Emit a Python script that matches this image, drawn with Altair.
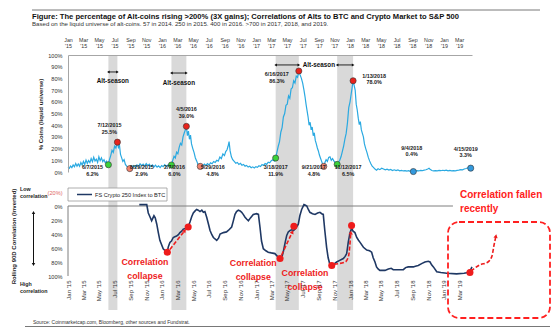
import math
import datetime as dt
import altair as alt
import pandas as pd

FONT = "Liberation Sans"
W = 404            # plot width (Jan 2015 .. 20 Apr 2019)
TOP_H = 117        # height of the upper panel
BOT_RANGE = [137, 221]
RED = "#ee1c1c"
NAVY = "#1f3864"
LIGHT_BLUE = "#2aa9e1"
BAND = "#d9d9d9"

# ---------------- upper panel: % of alt-coins rising >200% ----------------
alt_dates = [
    "2015-01-01", "2015-01-06", "2015-01-11", "2015-01-16", "2015-01-21", "2015-01-26", "2015-01-31",
    "2015-02-05", "2015-02-10", "2015-02-15", "2015-02-20", "2015-02-25",
    "2015-03-02", "2015-03-07", "2015-03-12", "2015-03-17", "2015-03-22", "2015-03-27",
    "2015-04-01", "2015-04-06", "2015-04-11", "2015-04-16", "2015-04-21", "2015-04-26",
    "2015-05-01", "2015-05-06", "2015-05-11", "2015-05-16", "2015-05-21", "2015-05-26", "2015-05-31",
    "2015-06-04", "2015-06-07", "2015-06-11", "2015-06-16", "2015-06-21", "2015-06-26",
    "2015-07-01", "2015-07-06", "2015-07-12", "2015-07-16", "2015-07-20", "2015-07-24", "2015-07-28",
    "2015-08-02", "2015-08-07", "2015-08-12", "2015-08-17", "2015-08-22", "2015-08-29",
    "2015-09-03", "2015-09-08", "2015-09-14", "2015-09-20", "2015-09-26",
    "2015-10-02", "2015-10-08", "2015-10-14", "2015-10-20", "2015-10-26",
    "2015-11-01", "2015-11-07", "2015-11-13", "2015-11-19", "2015-11-25",
    "2015-12-01", "2015-12-07", "2015-12-13", "2015-12-19", "2015-12-25", "2015-12-31",
    "2016-01-06", "2016-01-12", "2016-01-18", "2016-01-24", "2016-01-30",
    "2016-02-04", "2016-02-07", "2016-02-12", "2016-02-17", "2016-02-22", "2016-02-27",
    "2016-03-03", "2016-03-08", "2016-03-13", "2016-03-18", "2016-03-23", "2016-03-28",
    "2016-04-01", "2016-04-05", "2016-04-09", "2016-04-13", "2016-04-17", "2016-04-21", "2016-04-25", "2016-04-30",
    "2016-05-05", "2016-05-10", "2016-05-15", "2016-05-20", "2016-05-25", "2016-05-29",
    "2016-06-03", "2016-06-08", "2016-06-14", "2016-06-20", "2016-06-26",
    "2016-07-02", "2016-07-08", "2016-07-14", "2016-07-20", "2016-07-26",
    "2016-08-01", "2016-08-07", "2016-08-13", "2016-08-19", "2016-08-25", "2016-08-31",
    "2016-09-05", "2016-09-10", "2016-09-14", "2016-09-18", "2016-09-22", "2016-09-27",
    "2016-10-02", "2016-10-08", "2016-10-14", "2016-10-20", "2016-10-26",
    "2016-11-01", "2016-11-07", "2016-11-13", "2016-11-19", "2016-11-25",
    "2016-12-01", "2016-12-07", "2016-12-13", "2016-12-19", "2016-12-25", "2016-12-31",
    "2017-01-06", "2017-01-12", "2017-01-18", "2017-01-24", "2017-01-30",
    "2017-02-05", "2017-02-11", "2017-02-17", "2017-02-23",
    "2017-03-01", "2017-03-07", "2017-03-13", "2017-03-18", "2017-03-23", "2017-03-28",
    "2017-04-02", "2017-04-07", "2017-04-12", "2017-04-17", "2017-04-22", "2017-04-27",
    "2017-05-02", "2017-05-07", "2017-05-12", "2017-05-17", "2017-05-22", "2017-05-27",
    "2017-06-01", "2017-06-06", "2017-06-11", "2017-06-16", "2017-06-21", "2017-06-26",
    "2017-07-01", "2017-07-06", "2017-07-10", "2017-07-14", "2017-07-18", "2017-07-22", "2017-07-26", "2017-07-30",
    "2017-08-03", "2017-08-07", "2017-08-11", "2017-08-15", "2017-08-19", "2017-08-23", "2017-08-27", "2017-08-31",
    "2017-09-04", "2017-09-08", "2017-09-12", "2017-09-16", "2017-09-21", "2017-09-25", "2017-09-30",
    "2017-10-05", "2017-10-10", "2017-10-15", "2017-10-20", "2017-10-25", "2017-10-30",
    "2017-11-04", "2017-11-08", "2017-11-12", "2017-11-17", "2017-11-22", "2017-11-27",
    "2017-12-02", "2017-12-07", "2017-12-12", "2017-12-17", "2017-12-22", "2017-12-27",
    "2018-01-01", "2018-01-05", "2018-01-09", "2018-01-13", "2018-01-17", "2018-01-21", "2018-01-25", "2018-01-29",
    "2018-02-02", "2018-02-06", "2018-02-10", "2018-02-14", "2018-02-18", "2018-02-22", "2018-02-26",
    "2018-03-03", "2018-03-08", "2018-03-13", "2018-03-18", "2018-03-23", "2018-03-28",
    "2018-04-02", "2018-04-08", "2018-04-14", "2018-04-20", "2018-04-27",
    "2018-05-04", "2018-05-11", "2018-05-18", "2018-05-25",
    "2018-06-01", "2018-06-08", "2018-06-15", "2018-06-22", "2018-06-29",
    "2018-07-06", "2018-07-13", "2018-07-20", "2018-07-27",
    "2018-08-03", "2018-08-10", "2018-08-17", "2018-08-24", "2018-08-31",
    "2018-09-04", "2018-09-11", "2018-09-18", "2018-09-25",
    "2018-10-02", "2018-10-09", "2018-10-16", "2018-10-23", "2018-10-30",
    "2018-11-04", "2018-11-08", "2018-11-15", "2018-11-22", "2018-11-29",
    "2018-12-06", "2018-12-13", "2018-12-20", "2018-12-27",
    "2019-01-03", "2019-01-10", "2019-01-17", "2019-01-24", "2019-01-31",
    "2019-02-07", "2019-02-14", "2019-02-21", "2019-02-28",
    "2019-03-07", "2019-03-14", "2019-03-21", "2019-03-28",
    "2019-04-04", "2019-04-10", "2019-04-15",
]
alt_pct = [
    4.0, 3.2, 5.1, 3.8, 6.0, 4.5, 7.2,
    5.0, 6.8, 4.9, 8.1, 6.0,
    9.0, 6.5, 10.2, 7.4, 9.8, 8.0,
    11.5, 8.8, 12.6, 9.5, 11.0, 8.2,
    13.0, 9.7, 12.1, 8.9, 10.5, 7.8, 9.2,
    7.0, 6.2, 10.5, 14.0, 18.5, 16.8,
    22.0, 20.5, 25.5, 21.0, 23.0, 15.0, 12.5,
    9.0, 10.5, 6.5, 5.0, 4.0, 2.9,
    4.5, 3.6, 5.4, 4.2, 6.1,
    4.8, 7.0, 5.5, 6.8, 5.0,
    7.2, 5.4, 6.6, 4.7, 6.0,
    4.4, 5.8, 4.1, 5.2, 3.8, 5.5,
    4.5, 6.2, 4.6, 5.9, 4.8,
    5.5, 6.0, 10.0, 13.5, 12.0, 17.0,
    15.5, 21.0, 24.5, 23.0, 30.0, 33.5,
    36.0, 39.0, 31.0, 35.0, 28.0, 31.5, 24.0, 20.0,
    16.5, 12.0, 9.5, 6.5, 5.6, 4.8,
    6.0, 5.2, 6.8, 5.6, 7.2,
    6.0, 7.8, 7.0, 9.0, 8.2,
    10.0, 9.3, 12.8, 11.5, 15.5, 14.0,
    17.5, 19.0, 22.0, 26.0, 18.0, 13.0,
    10.5, 9.0, 7.5, 8.2, 6.5,
    7.4, 5.8, 6.5, 5.0, 5.6,
    4.2, 4.9, 3.6, 4.4, 3.5, 4.6,
    4.0, 5.3, 4.7, 6.4, 5.6,
    7.2, 6.5, 8.4, 7.8,
    9.6, 10.5, 9.4, 11.9, 17.0, 22.0,
    26.0, 34.0, 38.0, 47.0, 50.0, 57.0,
    58.0, 65.0, 63.0, 71.0, 72.0, 78.0,
    76.0, 82.0, 81.0, 86.3, 83.0, 80.0,
    76.0, 70.0, 64.5, 58.0, 52.5, 47.0, 40.0, 42.5,
    36.0, 38.5, 31.0, 33.5, 27.0, 24.0, 20.5, 18.0,
    14.5, 12.0, 9.5, 7.0, 4.8, 8.0, 10.5,
    9.0, 12.5, 13.0, 10.0, 11.5, 9.5,
    8.2, 7.4, 6.5, 8.5, 10.0, 13.0,
    17.5, 22.0, 28.0, 33.0, 42.0, 55.0,
    60.0, 66.0, 72.0, 78.0, 74.0, 70.0, 58.0, 53.0,
    46.0, 40.5, 43.0, 36.0, 33.0, 30.0, 24.0,
    20.0, 16.5, 12.5, 9.5, 7.0, 5.0,
    4.0, 2.5, 1.5, 2.8, 2.0,
    3.2, 2.6, 1.8, 2.4,
    1.6, 2.2, 1.3, 1.9, 1.2,
    1.7, 1.0, 1.4, 0.9,
    1.2, 0.8, 1.1, 0.6, 0.9,
    0.4, 0.8, 1.2, 0.9,
    1.4, 1.1, 1.6, 1.9, 2.6,
    3.2, 2.4, 1.3, 1.0, 1.2,
    0.9, 1.3, 1.1, 1.5,
    1.2, 1.6, 1.0, 1.3, 0.9,
    1.2, 1.0, 1.4, 1.6,
    2.0, 1.8, 2.6, 3.0,
    3.6, 3.1, 3.3,
]
assert len(alt_dates) == len(alt_pct)

season_start = ["2015-06-07", "2016-02-07", "2017-03-18", "2017-11-12"]
season_end = ["2015-07-12", "2016-04-05", "2017-06-16", "2018-01-13"]

dot_dates = ["2015-06-07", "2015-07-12", "2015-08-29", "2016-02-07", "2016-04-05", "2016-05-29",
             "2017-03-18", "2017-06-16", "2017-09-21", "2017-11-12", "2018-01-13", "2018-09-04",
             "2019-04-15"]
dot_pct = [6.2, 25.5, 2.9, 6.0, 39.0, 4.8, 11.9, 86.3, 4.8, 6.5, 78.0, 0.4, 3.3]
dot_kind = ["start", "peak", "trough", "start", "peak", "trough", "start", "peak", "trough",
            "start", "peak", "recent", "recent"]

# ---------------- lower panel: rolling 90D correlation (inverted) ----------------
corr_dates = [
    "2015-10-05", "2015-11-03", "2015-11-09", "2015-11-15", "2015-11-22", "2015-12-01", "2015-12-06",
    "2015-12-12", "2015-12-18", "2015-12-24",
    "2016-01-06", "2016-01-14", "2016-01-22", "2016-01-26", "2016-02-01", "2016-02-07", "2016-02-14",
    "2016-02-20", "2016-02-27", "2016-03-05", "2016-03-11", "2016-03-18", "2016-03-24", "2016-04-02",
    "2016-04-12", "2016-04-19", "2016-04-26", "2016-05-02", "2016-05-09", "2016-05-15", "2016-05-21",
    "2016-05-28", "2016-06-04", "2016-06-10", "2016-06-16", "2016-06-23", "2016-06-30", "2016-07-06",
    "2016-07-13", "2016-07-19", "2016-08-01", "2016-08-08", "2016-08-14", "2016-08-27", "2016-09-08",
    "2016-09-15", "2016-09-28", "2016-10-04", "2016-10-11", "2016-10-17", "2016-10-24", "2016-10-31",
    "2016-11-06", "2016-11-12", "2016-11-19", "2016-11-26", "2016-12-02", "2016-12-10", "2016-12-21",
    "2017-01-03", "2017-01-10", "2017-01-16", "2017-01-22", "2017-01-29", "2017-02-08", "2017-02-17",
    "2017-03-01", "2017-03-15", "2017-03-25", "2017-04-04", "2017-04-12", "2017-04-17", "2017-04-24",
    "2017-04-30", "2017-05-06", "2017-05-13", "2017-05-20", "2017-05-26", "2017-06-01", "2017-06-07",
    "2017-06-14", "2017-06-20", "2017-06-27", "2017-07-06", "2017-07-12", "2017-07-17", "2017-07-23",
    "2017-07-29", "2017-08-08", "2017-08-18", "2017-08-28", "2017-09-06", "2017-09-13", "2017-09-19",
    "2017-09-25", "2017-10-02", "2017-10-08", "2017-10-15", "2017-10-22", "2017-10-28", "2017-11-03",
    "2017-11-10", "2017-11-20", "2017-12-06", "2017-12-13", "2017-12-19", "2017-12-25",
    "2018-01-01", "2018-01-07", "2018-01-13", "2018-01-20", "2018-01-27", "2018-02-03", "2018-02-09",
    "2018-02-22", "2018-03-07", "2018-03-18", "2018-03-26", "2018-04-01", "2018-04-08", "2018-04-14",
    "2018-04-20", "2018-04-27", "2018-05-17", "2018-05-30", "2018-06-10", "2018-06-18", "2018-07-05",
    "2018-07-27", "2018-08-05", "2018-08-15", "2018-09-04", "2018-09-12", "2018-09-23", "2018-10-08",
    "2018-10-19", "2018-11-01", "2018-11-08", "2018-11-14", "2018-11-21", "2018-12-04", "2018-12-20",
    "2019-01-12", "2019-02-19", "2019-03-20", "2019-04-05", "2019-04-12", "2019-04-20",
]
corr_pct = [
    -2, -2, 10, 15, 21, 14, 17,
    26, 38, 49,
    61, 64, 65, 58, 52, 50, 45,
    44, 43, 41, 38, 36, 33, 32,
    30, 23, 15, 10, 7, 5, 6,
    8, 6, 9, 8, 16, 26, 35,
    41, 45, 49, 46, 40, 38, 37,
    35, 30, 22, 12, 8, 6, 7,
    9, 12, 16, 19, 21, 17, 12,
    11, 12, 30, 50, 61, 64, 66,
    67, 68, 72, 75, 72, 65, 52,
    42, 37, 35, 34, 35, 33, 30,
    26, 14, 5, -2, -1, 0, 5,
    9, 11, 12, 10, 9, 11, 12,
    35, 59, 74, 84, 85, 84, 82,
    80, 78, 75, 72, 68, 52,
    38, 32, 36, 38, 45, 49, 52,
    59, 63, 64, 66, 74, 80, 87,
    90, 92, 92, 90, 89, 91, 91,
    91, 88, 87, 87, 86, 85, 82,
    80, 79, 80, 84, 87, 94, 95,
    96, 97, 96, 95, 93, 87,
]
assert len(corr_dates) == len(corr_pct)

red_dates = ["2016-01-22", "2016-04-12", "2017-04-04", "2017-05-28", "2017-10-22", "2018-01-07", "2019-04-12"]
red_pct = [66, 30, 75, 29, 85, 28, 95]

# annotation paths (data space) for the red dashed arrows
arrow_paths = [
    (["2016-02-01", "2016-03-30"], [62, 35]),
    (["2017-04-10", "2017-05-22"], [70, 37]),
    (["2017-10-31", "2017-12-13", "2017-12-26", "2018-01-04"], [83, 80, 72, 38]),
    (["2019-04-16", "2019-05-21", "2019-06-21", "2019-07-07", "2019-07-14", "2019-07-22"], [93, 84, 80, 71, 57, 43]),
]
collapse_dates = ["2015-10-27", "2016-12-21", "2017-07-10"]
collapse_pct = [80, 81.9, 96.1]

season_arrow_pct = [85.5, 84.6, 91.5, 91.5]
season_text_dates = ["2015-06-24", "2016-03-07", "2017-09-02"]
season_text_pct = [77.8, 76.0, 91.5]

tick_dates = [(y, m) for y in range(2015, 2020) for m in (1, 3, 5, 7, 9, 11) if (y, m) <= (2019, 3)]

# ---------------- helpers ----------------
D0 = dt.date(2015, 1, 1)
D1 = dt.date(2019, 4, 20)
TOTAL = (D1 - D0).days


def px_x(s):
    return (dt.date.fromisoformat(s) - D0).days / TOTAL * W


def px_yb(v):
    return BOT_RANGE[0] + (v + 20) / 120 * (BOT_RANGE[1] - BOT_RANGE[0])


x_dom = [alt.DateTime(year=2015, month=1, date=1, utc=True), alt.DateTime(year=2019, month=4, date=20, utc=True)]
tick_vals = [alt.DateTime(year=y, month=m, date=1, utc=True) for y, m in tick_dates]

xs_top = alt.Scale(type="utc", domain=x_dom)
xs_bot = alt.Scale(type="utc", domain=x_dom)
ys_top = alt.Scale(domain=[0, 100], range=[TOP_H, 0], nice=False, zero=False)
ys_bot = alt.Scale(domain=[-20, 100], range=BOT_RANGE, nice=False, zero=False)

ax_top_x = alt.Axis(orient="top", values=tick_vals,
                    labelExpr="[utcFormat(datum.value, '%b'), \"'\" + utcFormat(datum.value, '%y')]",
                    labelFont=FONT, labelFontSize=5.3, labelColor="#333333", labelLineHeight=6.5,
                    labelPadding=13, labelFlush=False, labelOverlap=False, labelBound=False,
                    ticks=False, tickSize=0, domain=True, domainColor="#a6a6a6", domainWidth=1,
                    grid=False, title=None, zindex=1)
ax_bot_x = alt.Axis(orient="bottom", values=tick_vals,
                    labelExpr="utcFormat(datum.value, '%b') + \" '\" + utcFormat(datum.value, '%y')",
                    labelAngle=270, labelFont=FONT, labelFontSize=6, labelColor="#333333",
                    labelPadding=4, labelFlush=False, labelOverlap=False, labelBound=False,
                    ticks=False, tickSize=0, domain=False, grid=False, title=None, zindex=1)
ax_top_y = alt.Axis(orient="left", values=list(range(0, 101, 10)), labelExpr="datum.value + '%'",
                    labelFont=FONT, labelFontSize=5.6, labelColor="#333333", labelPadding=6,
                    ticks=False, tickSize=0, domain=True, domainColor="#a6a6a6", grid=False,
                    title="% Coins (liquid universe)", titleFont=FONT, titleFontSize=6,
                    titleFontWeight="bold", titleColor="#222222", titleX=-28, titleY=59,
                    titleAngle=270, titleAlign="center", titleBaseline="middle", zindex=1)
ax_bot_y = alt.Axis(orient="left", values=[-20, 0, 20, 40, 60, 80, 100],
                    labelExpr="datum.value < 0 ? '(' + (-datum.value) + '%)' : datum.value + '%'",
                    labelColor={"condition": {"test": "datum.value < 0", "value": "#e06666"}, "value": "#333333"},
                    labelFont=FONT, labelFontSize=5.6, labelPadding=6,
                    ticks=False, tickSize=0, domain=False, grid=False,
                    title="Rolling 90D Correlation (Inverted)", titleFont=FONT, titleFontSize=6,
                    titleFontWeight="bold", titleColor="#222222", titleX=-55, titleY=181,
                    titleAngle=270, titleAlign="center", titleBaseline="middle", zindex=1)


def TX(f):
    return alt.X(f"{f}:T", scale=xs_top, axis=ax_top_x)


def TY(f):
    return alt.Y(f"{f}:Q", scale=ys_top, axis=ax_top_y)


def BX(f):
    return alt.X(f"{f}:T", scale=xs_bot, axis=ax_bot_x)


def BY(f):
    return alt.Y(f"{f}:Q", scale=ys_bot, axis=ax_bot_y)


one = pd.DataFrame({"a": [0]})

# ---------------- upper panel layers ----------------
df_alt = pd.DataFrame({"date": alt_dates, "pct": alt_pct})
df_band = pd.DataFrame({"start": season_start, "end": season_end, "ay": season_arrow_pct})
dot_text = []
for s, p in zip(dot_dates, dot_pct):
    y, m, d = s.split("-")
    dot_text.append(f"{int(m)}/{int(d)}/{y}\n{p:.1f}%")
df_dot = pd.DataFrame({"date": dot_dates, "pct": dot_pct, "kind": dot_kind, "label": dot_text})

bands = alt.Chart(df_band).mark_rect(color=BAND).encode(
    x=TX("start"), x2=alt.X2("end"), y=alt.value(0), y2=alt.value(255))
alt_line = alt.Chart(df_alt).mark_line(color=LIGHT_BLUE, strokeWidth=1.2).encode(x=TX("date"), y=TY("pct"))
dots = alt.Chart(df_dot).mark_point(filled=True, size=38, opacity=1, stroke="#333333", strokeWidth=0.6).encode(
    x=TX("date"), y=TY("pct"),
    color=alt.Color("kind:N", legend=None,
                    scale=alt.Scale(domain=["peak", "start", "trough", "recent"],
                                    range=["#e8231c", "#3ad23a", "#f0826e", "#3399dd"])))

# label placement styles for each dot label: (mode, dx, dy); text block top is anchored
label_style = [
    ("below", -16, 0), ("rel", -8, -19), ("below", 12, 0), ("below", 3, 0), ("rel", 0, -19.2),
    ("below", 12.5, 0), ("below", 0, 0), ("rel", -22, 1.2), ("below", -10, 0), ("below", 11, 0),
    ("rel", 21, -6.8), ("rel", -1.6, -26), ("rel", -5, -21.6),
]
dot_labels = []
for i, (mode, ddx, ddy) in enumerate(label_style):
    base = alt.Chart(df_dot.iloc[[i]])
    ymark = alt.value(110) if mode == "below" else TY("pct")
    lab = base.mark_text(font=FONT, fontSize=5.4, fontWeight="bold", color="#222222", lineBreak="\n",
                         lineHeight=6.5, baseline="top", align="center", dx=ddx, dy=ddy).encode(
        x=TX("date"), y=ymark, text="label:N")
    dot_labels.append(lab)

season_rules = alt.Chart(df_band).mark_rule(color="#111111", strokeWidth=0.9).encode(
    x=TX("start"), x2=alt.X2("end"), y=TY("ay"))
season_lheads = alt.Chart(df_band).mark_point(shape="triangle-left", filled=True, size=9, color="#111111",
                                              opacity=1).encode(x=TX("start"), y=TY("ay"))
season_rheads = alt.Chart(df_band).mark_point(shape="triangle-right", filled=True, size=9, color="#111111",
                                              opacity=1).encode(x=TX("end"), y=TY("ay"))
df_season_txt = pd.DataFrame({"date": season_text_dates, "pct": season_text_pct, "t": ["Alt-season"] * 3})
season_txt = alt.Chart(df_season_txt).mark_text(font=FONT, fontSize=6.3, fontWeight="bold",
                                                color="#111111", baseline="middle").encode(
    x=TX("date"), y=TY("pct"), text="t:N")

top = alt.layer(bands, alt_line, dots, season_rules, season_lheads, season_rheads, season_txt, *dot_labels)

# ---------------- lower panel layers ----------------
df_corr = pd.DataFrame({"date": corr_dates, "pct": corr_pct})
df_red = pd.DataFrame({"date": red_dates, "pct": red_pct})

legend_box = alt.Chart(one).mark_rect(fill="white", stroke="#999999", strokeWidth=0.8).encode(
    x=alt.value(0), x2=alt.value(99), y=alt.value(133), y2=alt.value(146))
legend_line = alt.Chart(one).mark_rule(color=NAVY, strokeWidth=1.5).encode(
    x=alt.value(9), x2=alt.value(24), y=alt.value(139.5))
legend_txt = alt.Chart(one).mark_text(text="FS Crypto 250 Index to BTC", font=FONT, fontSize=5.6,
                                      color="#222222", align="left", baseline="middle").encode(
    x=alt.value(27), y=alt.value(139.5))

zero_line = alt.Chart(pd.DataFrame({"s": ["2015-01-01"], "e": ["2019-02-05"], "v": [0]})).mark_rule(
    color="#7f7f7f", strokeWidth=1).encode(x=BX("s"), x2=alt.X2("e"), y=BY("v"))
left_line = alt.Chart(pd.DataFrame({"v0": [0], "v1": [100]})).mark_rule(color="#7f7f7f", strokeWidth=1).encode(
    x=alt.value(0), y=BY("v0"), y2=alt.Y2("v1"))
corr_line = alt.Chart(df_corr).mark_line(color=NAVY, strokeWidth=1.6).encode(x=BX("date"), y=BY("pct"))

arrow_layers = []
for k, (ds, vs) in enumerate(arrow_paths):
    dfa = pd.DataFrame({"date": ds, "pct": vs})
    arrow_layers.append(alt.Chart(dfa).mark_line(color=RED, strokeWidth=1.6, strokeDash=[4, 2],
                                                 interpolate="monotone").encode(x=BX("date"), y=BY("pct")))
    ddx = px_x(ds[-1]) - px_x(ds[-2])
    ddy = px_yb(vs[-1]) - px_yb(vs[-2])
    ang = math.degrees(math.atan2(ddx, -ddy)) % 360
    arrow_layers.append(alt.Chart(dfa.iloc[[-1]]).mark_point(shape="triangle-up", filled=True, size=18,
                                                             color=RED, opacity=1, angle=ang).encode(
        x=BX("date"), y=BY("pct")))

red_dots = alt.Chart(df_red).mark_point(filled=True, size=50, color=RED, opacity=1).encode(
    x=BX("date"), y=BY("pct"))

df_collapse = pd.DataFrame({"date": collapse_dates, "pct": collapse_pct,
                            "t": ["Correlation\ncollapse"] * 3})
collapse_txt = alt.Chart(df_collapse).mark_text(font=FONT, fontSize=8.8, fontWeight="bold", color=RED,
                                                lineBreak="\n", lineHeight=14, baseline="middle").encode(
    x=BX("date"), y=BY("pct"), text="t:N")

bottom = alt.layer(legend_box, legend_line, legend_txt, zero_line, left_line, corr_line,
                   *arrow_layers, red_dots, collapse_txt)

# ---------------- frame annotations (outside the plot) ----------------
def ftext(txt, x, y, size, weight="normal", color="#222222", align="left", baseline="middle", lh=None):
    kw = dict(text=txt, font=FONT, fontSize=size, fontWeight=weight, color=color, align=align,
              baseline=baseline)
    if lh:
        kw.update(lineBreak="\n", lineHeight=lh)
    return alt.Chart(one).mark_text(**kw).encode(x=alt.value(x), y=alt.value(y))


frame = alt.layer(
    alt.Chart(one).mark_rule(color="#555555", strokeWidth=0.8).encode(
        x=alt.value(-36), x2=alt.value(472), y=alt.value(-45)),
    ftext("Figure: The percentage of Alt-coins rising >200% (3X gains); Correlations of Alts to BTC "
          "and Crypto Market to S&P 500", -36, -38.5, 7.6, "bold", "#111111"),
    ftext("Based on the liquid universe of alt-coins. 57 in 2014.  250 in 2015.  400 in 2016.  "
          ">700 in 2017, 2018, and 2019.", -36, -31, 6.1, "normal", "#333333"),
    ftext("Low\ncorrelation", -48, 133.5, 5.3, "bold", "#222222", lh=7),
    ftext("High\ncorrelation", -48, 229, 5.3, "bold", "#222222", lh=7),
    alt.Chart(one).mark_rule(color="#111111", strokeWidth=1).encode(
        x=alt.value(-34.5), y=alt.value(158), y2=alt.value(209)),
    alt.Chart(one).mark_point(shape="triangle-up", filled=True, size=12, color="#111111", opacity=1).encode(
        x=alt.value(-34.5), y=alt.value(157.5)),
    alt.Chart(one).mark_point(shape="triangle-down", filled=True, size=12, color="#111111", opacity=1).encode(
        x=alt.value(-34.5), y=alt.value(209.5)),
    alt.Chart(one).mark_rect(fill=None, stroke="#ff2020", strokeWidth=1.8, strokeDash=[6, 3],
                             cornerRadius=11).encode(
        x=alt.value(380), x2=alt.value(482), y=alt.value(167), y2=alt.value(263)),
    ftext("Correlation fallen\nrecently", 392, 140, 10, "bold", "#ff2020", lh=14),
    ftext("Source: Coinmarketcap.com, Bloomberg, other sources and Fundstrat.", -35, 266.5, 5, "normal",
          "#333333"),
    alt.Chart(one).mark_rule(color="#555555", strokeWidth=0.8).encode(
        x=alt.value(-43), x2=alt.value(482), y=alt.value(271.5)),
)

chart = alt.layer(top, bottom, frame).resolve_scale(x="independent", y="independent").properties(
    width=W, height=221,
    padding={"left": 68, "top": 55, "right": 88, "bottom": 56},
    autosize=alt.AutoSizeParams(type="none"),
    background="white",
).configure(font=FONT).configure_view(stroke=None)

chart.save("out.html", embed_options={"renderer": "svg", "actions": False})
